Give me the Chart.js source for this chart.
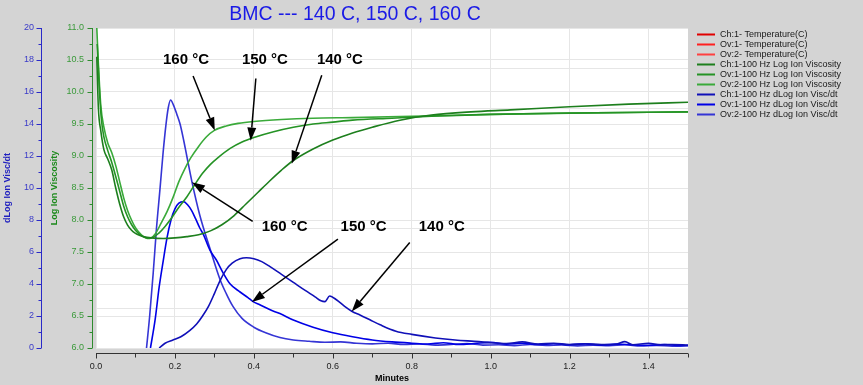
<!DOCTYPE html>
<html>
<head>
<meta charset="utf-8">
<script src="https://cdn.jsdelivr.net/npm/chart.js@4.4.1/dist/chart.umd.min.js"></script>
<style>
  html, body { margin: 0; padding: 0; background: #d4d4d4; }
</style>
</head>
<body>
<canvas id="bmcChart" width="863" height="385"></canvas>
<script>
// Series names (legend order)
const seriesNames = [
  'Ch:1- Temperature(C)', 'Ov:1- Temperature(C)', 'Ov:2- Temperature(C)',
  'Ch:1-100 Hz Log Ion Viscosity', 'Ov:1-100 Hz Log Ion Viscosity', 'Ov:2-100 Hz Log Ion Viscosity',
  'Ch:1-100 Hz dLog Ion Visc/dt', 'Ov:1-100 Hz dLog Ion Visc/dt', 'Ov:2-100 Hz dLog Ion Visc/dt'
];
const seriesColors = [
  '#e00000', '#ff2020', '#ff4040',
  '#1d7f1d', '#259325', '#3aaa3a',
  '#1010b8', '#0000e6', '#3535d5'
];

// Log Ion Viscosity (minutes / value)
const viscT140 = [0.002,0.006,0.012,0.02,0.03,0.04,0.05,0.06,0.07,0.08,0.09,0.10,0.11,0.12,0.14,0.17,0.20,0.23,0.26,0.29,0.32,0.35,0.38,0.41,0.44,0.47,0.50,0.55,0.60,0.65,0.70,0.77,0.85,0.95,1.05,1.20,1.35,1.50];
const visc140  = [10.55,9.75,9.4,9.1,8.95,8.78,8.5,8.25,8.05,7.92,7.84,7.79,7.76,7.74,7.72,7.71,7.72,7.74,7.77,7.83,7.93,8.07,8.25,8.43,8.61,8.78,8.93,9.11,9.25,9.36,9.45,9.56,9.64,9.69,9.72,9.77,9.81,9.84];
const viscT150 = [0.003,0.008,0.014,0.02,0.03,0.04,0.05,0.06,0.07,0.08,0.09,0.10,0.11,0.12,0.13,0.145,0.16,0.175,0.19,0.21,0.23,0.25,0.27,0.29,0.31,0.34,0.37,0.40,0.45,0.50,0.55,0.60,0.65,0.75,0.85,1.0,1.2,1.5];
const visc150  = [10.75,10.1,9.55,9.3,9.08,8.9,8.68,8.45,8.22,8.05,7.93,7.84,7.78,7.74,7.72,7.73,7.8,7.9,8.02,8.2,8.36,8.55,8.73,8.87,8.98,9.12,9.22,9.29,9.38,9.45,9.5,9.53,9.56,9.59,9.62,9.65,9.67,9.69];
const viscT160 = [0.002,0.006,0.012,0.02,0.03,0.04,0.05,0.06,0.07,0.08,0.09,0.10,0.11,0.12,0.13,0.14,0.15,0.165,0.18,0.195,0.21,0.225,0.24,0.26,0.28,0.30,0.33,0.36,0.40,0.47,0.55,0.65,0.80,1.0,1.2,1.5];
const visc160  = [11.0,10.45,9.8,9.45,9.2,9.05,8.85,8.6,8.35,8.15,8.0,7.88,7.8,7.74,7.71,7.72,7.78,7.95,8.13,8.35,8.6,8.8,8.97,9.15,9.3,9.4,9.47,9.51,9.54,9.57,9.59,9.6,9.62,9.65,9.67,9.69];

// dLog Ion Visc/dt
const slopeT140 = [0.160,0.175,0.195,0.215,0.238,0.255,0.270,0.285,0.300,0.314,0.330,0.345,0.365,0.381,0.400,0.420,0.440,0.470,0.500,0.530,0.555,0.570,0.580,0.592,0.610,0.630,0.648,0.670,0.694,0.720,0.760,0.800,0.860,0.910,0.970,1.000,1.040,1.080,1.120,1.160,1.200,1.240,1.280,1.320,1.340,1.360,1.400,1.430,1.460,1.500];
const slope140  = [0,0.3,0.5,0.7,1.1,1.5,2.0,2.6,3.4,4.2,4.9,5.3,5.58,5.64,5.58,5.4,5.1,4.6,4.1,3.6,3.2,2.95,2.9,3.25,3.0,2.6,2.3,2.05,1.76,1.45,1.05,0.85,0.63,0.5,0.4,0.33,0.28,0.38,0.25,0.3,0.22,0.27,0.21,0.25,0.4,0.2,0.3,0.2,0.22,0.18];
const slopeT150 = [0.138,0.150,0.160,0.170,0.180,0.190,0.200,0.210,0.222,0.232,0.242,0.252,0.263,0.272,0.289,0.305,0.322,0.340,0.365,0.385,0.398,0.415,0.440,0.466,0.500,0.550,0.600,0.650,0.700,0.750,0.800,0.840,0.880,0.920,0.960,1.000,1.040,1.080,1.120,1.160,1.200,1.240,1.280,1.320,1.360,1.400,1.440,1.480,1.500];
const slope150  = [0,1.8,3.8,5.4,6.9,8.0,8.7,9.05,9.15,8.95,8.6,8.1,7.5,7.1,6.1,5.5,4.7,4.0,3.5,3.15,2.9,2.7,2.4,2.15,1.75,1.3,0.95,0.7,0.5,0.38,0.3,0.25,0.33,0.22,0.28,0.35,0.24,0.3,0.22,0.27,0.2,0.26,0.18,0.24,0.2,0.17,0.22,0.15,0.16];
const slopeT160 = [0.128,0.136,0.145,0.153,0.162,0.170,0.177,0.183,0.189,0.196,0.205,0.213,0.222,0.230,0.243,0.263,0.289,0.314,0.330,0.347,0.370,0.400,0.430,0.466,0.500,0.540,0.580,0.620,0.660,0.700,0.740,0.780,0.820,0.860,0.900,0.940,0.980,1.020,1.060,1.100,1.140,1.180,1.220,1.260,1.300,1.340,1.380,1.420,1.460,1.500];
const slope160  = [0,2.0,4.7,7.4,9.9,12.2,13.9,15.0,15.5,15.2,14.6,14.0,13.0,12.0,10.4,8.3,6.2,4.3,3.4,2.6,1.85,1.3,0.95,0.65,0.5,0.42,0.36,0.38,0.3,0.26,0.3,0.22,0.25,0.18,0.22,0.28,0.18,0.2,0.15,0.22,0.16,0.19,0.13,0.18,0.15,0.2,0.13,0.16,0.12,0.14];

// Callouts (minutes, Log Ion Viscosity units)
const noteText = ['160 °C', '150 °C', '140 °C', '160 °C', '150 °C', '140 °C'];
const noteX = [0.228, 0.428, 0.618, 0.478, 0.678, 0.876];
const noteY = [10.5, 10.5, 10.5, 7.9, 7.9, 7.9];
const arrowFrom = [[0.246, 10.25], [0.405, 10.21], [0.572, 10.26], [0.397, 7.98], [0.613, 7.70], [0.795, 7.65]];
const arrowTo   = [[0.301, 9.40], [0.392, 9.24], [0.496, 8.88], [0.243, 8.59], [0.395, 6.72], [0.648, 6.57]];

const FONT = "'Liberation Sans', Arial, sans-serif";
Chart.defaults.font.family = FONT;

function pts(ts, vs) {
  return ts.map((t, i) => ({ x: t, y: vs[i] }));
}

function line(idx, data, axis) {
  return {
    label: seriesNames[idx],
    data: data,
    yAxisID: axis,
    borderColor: seriesColors[idx],
    backgroundColor: seriesColors[idx],
    borderWidth: 1.6,
    pointRadius: 0,
    fill: false,
    cubicInterpolationMode: 'monotone'
  };
}

function drawArrow(ctx, x1, y1, x2, y2) {
  const ang = Math.atan2(y2 - y1, x2 - x1);
  const hl = 13, hw = 4.5;
  const bx = x2 - hl * Math.cos(ang), by = y2 - hl * Math.sin(ang);
  ctx.beginPath();
  ctx.moveTo(x1, y1);
  ctx.lineTo(bx, by);
  ctx.stroke();
  ctx.beginPath();
  ctx.moveTo(x2, y2);
  ctx.lineTo(bx + hw * Math.sin(ang), by - hw * Math.cos(ang));
  ctx.lineTo(bx - hw * Math.sin(ang), by + hw * Math.cos(ang));
  ctx.closePath();
  ctx.fill();
}

const bmcDecor = {
  id: 'bmcDecor',
  beforeDraw(chart) {
    const { ctx, chartArea: a } = chart;
    ctx.save();
    ctx.fillStyle = '#d4d4d4';
    ctx.fillRect(0, 0, chart.width, chart.height);
    ctx.fillStyle = '#ffffff';
    ctx.fillRect(a.left, a.top, a.right - a.left, a.bottom - a.top);
    ctx.restore();
  },
  afterDraw(chart) {
    const { ctx, chartArea: a, scales } = chart;
    const sx = scales.x, sy = scales.y, sd = scales.yd;
    ctx.save();
    ctx.lineWidth = 1;

    // blue axis line + ticks
    const bx = Math.round(sd.right) - 0.5;
    ctx.strokeStyle = '#2a2ac8';
    ctx.beginPath();
    ctx.moveTo(bx, sd.getPixelForValue(20));
    ctx.lineTo(bx, sd.getPixelForValue(0));
    for (let v = 0; v <= 20; v++) {
      const y = Math.round(sd.getPixelForValue(v)) + 0.5;
      ctx.moveTo(bx - (v % 2 === 0 ? 5 : 3), y);
      ctx.lineTo(bx, y);
    }
    ctx.stroke();

    // green axis line + ticks
    const gx = Math.round(a.left) - 3.5;
    ctx.strokeStyle = '#2e8b2e';
    ctx.beginPath();
    ctx.moveTo(gx, sy.getPixelForValue(11));
    ctx.lineTo(gx, sy.getPixelForValue(6));
    for (let k = 0; k <= 20; k++) {
      const y = Math.round(sy.getPixelForValue(6 + k * 0.25)) + 0.5;
      ctx.moveTo(gx - (k % 2 === 0 ? 5 : 3), y);
      ctx.lineTo(gx, y);
    }
    ctx.stroke();

    // x axis line + ticks
    const xy = Math.round(a.bottom) + 5.5;
    ctx.strokeStyle = '#333333';
    ctx.beginPath();
    ctx.moveTo(sx.getPixelForValue(0), xy);
    ctx.lineTo(sx.getPixelForValue(1.5), xy);
    for (let k = 0; k <= 15; k++) {
      const x = Math.round(sx.getPixelForValue(k * 0.1)) + 0.5;
      ctx.moveTo(x, xy);
      ctx.lineTo(x, xy + (k % 2 === 0 ? 5 : 4));
    }
    ctx.stroke();

    // title
    ctx.fillStyle = '#1a1ae6';
    ctx.font = '19.5px ' + FONT;
    ctx.textAlign = 'center';
    ctx.textBaseline = 'middle';
    ctx.fillText('BMC --- 140 C, 150 C, 160 C', 355, 15);

    // legend
    ctx.font = '9px ' + FONT;
    ctx.textAlign = 'left';
    chart.data.datasets.forEach((ds, i) => {
      const y = 34 + i * 10;
      ctx.strokeStyle = ds.borderColor;
      ctx.lineWidth = 2;
      ctx.beginPath();
      ctx.moveTo(697, y + 0.5);
      ctx.lineTo(715, y + 0.5);
      ctx.stroke();
      ctx.fillStyle = '#1a1a1a';
      ctx.fillText(ds.label, 720, y + 1);
    });

    // callouts
    ctx.fillStyle = '#000';
    ctx.strokeStyle = '#000';
    ctx.lineWidth = 1.5;
    ctx.font = 'bold 15px ' + FONT;
    ctx.textAlign = 'center';
    noteText.forEach((t, i) => {
      ctx.fillText(t, sx.getPixelForValue(noteX[i]), sy.getPixelForValue(noteY[i]));
      drawArrow(ctx,
        sx.getPixelForValue(arrowFrom[i][0]), sy.getPixelForValue(arrowFrom[i][1]),
        sx.getPixelForValue(arrowTo[i][0]), sy.getPixelForValue(arrowTo[i][1]));
    });
    ctx.restore();
  }
};

const tickFont = { size: 9 };
const gridColor = '#e6e6e6';

new Chart(document.getElementById('bmcChart'), {
  type: 'line',
  data: {
    datasets: [
      line(0, [], 'yt'),
      line(1, [], 'yt'),
      line(2, [], 'yt'),
      line(3, pts(viscT140, visc140), 'y'),
      line(4, pts(viscT150, visc150), 'y'),
      line(5, pts(viscT160, visc160), 'y'),
      line(6, pts(slopeT140, slope140), 'yd'),
      line(7, pts(slopeT150, slope150), 'yd'),
      line(8, pts(slopeT160, slope160), 'yd')
    ]
  },
  options: {
    responsive: false,
    animation: false,
    events: [],
    layout: { padding: { top: 28, right: 175, left: 0, bottom: 0 } },
    plugins: {
      legend: { display: false },
      title: { display: false },
      tooltip: { enabled: false }
    },
    scales: {
      x: {
        type: 'linear',
        min: 0,
        max: 1.5,
        afterFit(s) { s.height = 37; },
        border: { display: false },
        grid: { color: gridColor, drawTicks: false },
        ticks: {
          stepSize: 0.2,
          includeBounds: false,
          padding: 13,
          color: '#222',
          font: tickFont,
          callback: v => (v < 1.45 ? v.toFixed(1) : '')
        },
        title: {
          display: true,
          text: 'Minutes',
          color: '#000',
          font: { size: 9, weight: 'bold' },
          padding: { top: 0, bottom: 1.5 }
        }
      },
      yd: {
        position: 'left',
        weight: 2,
        min: 0,
        max: 20,
        afterFit(s) { s.width = 42; },
        border: { display: false },
        grid: { drawOnChartArea: false, drawTicks: false },
        ticks: { stepSize: 2, padding: 8, color: '#3a3ac8', font: tickFont },
        title: {
          display: true,
          text: 'dLog Ion Visc/dt',
          color: '#1f1fbf',
          font: { size: 9, weight: 'bold' },
          padding: { top: 2, bottom: 0 }
        }
      },
      y: {
        position: 'left',
        weight: 1,
        min: 6,
        max: 11,
        afterFit(s) { s.width = 54; },
        border: { display: false },
        grid: { color: gridColor, drawTicks: false },
        ticks: {
          stepSize: 0.5,
          padding: 12,
          color: '#3a9a3a',
          font: tickFont,
          callback: v => v.toFixed(1)
        },
        title: {
          display: true,
          text: 'Log Ion Viscosity',
          color: '#1d8a1d',
          font: { size: 9, weight: 'bold' },
          padding: { top: 7.5, bottom: 0 }
        }
      },
      yt: {
        position: 'right',
        min: 0,
        max: 200,
        afterFit(s) { s.width = 0; },
        border: { display: false },
        grid: { color: gridColor, drawTicks: false },
        ticks: { display: false, stepSize: 25 }
      }
    }
  },
  plugins: [bmcDecor]
});
</script>
</body>
</html>
